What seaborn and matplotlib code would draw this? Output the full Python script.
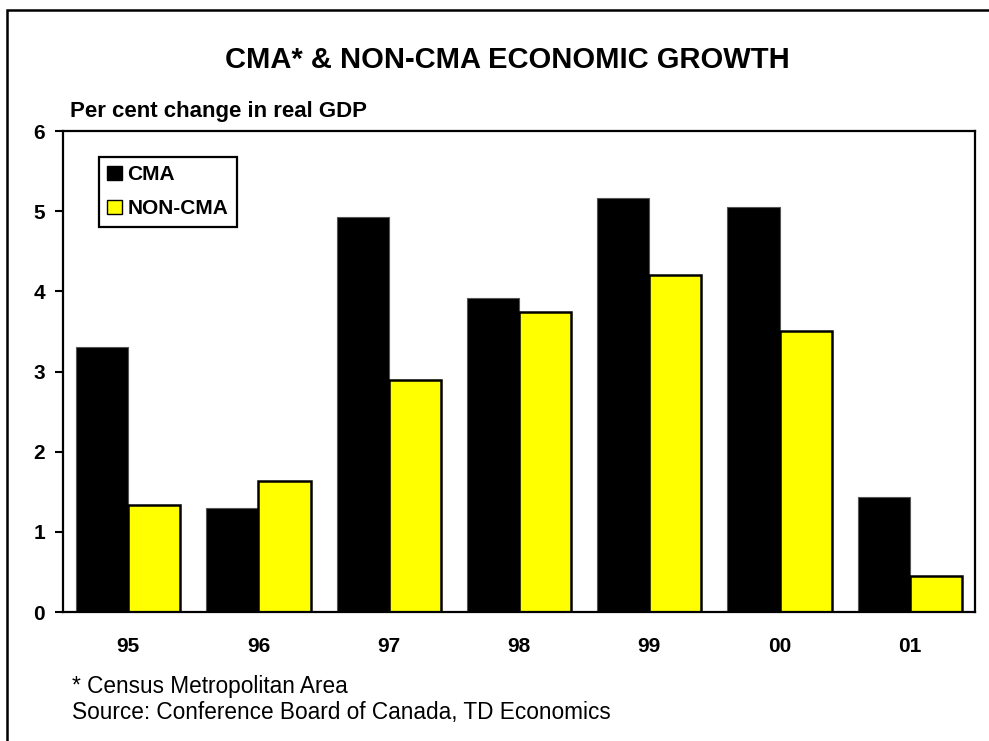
import matplotlib
matplotlib.use("Agg")
import matplotlib.pyplot as plt
from matplotlib.patches import Rectangle, Patch
import pandas as pd
import seaborn as sns

years = ["95", "96", "97", "98", "99", "00", "01"]
cma = [3.31, 1.30, 4.93, 3.92, 5.17, 5.05, 1.44]
non_cma = [1.33, 1.64, 2.89, 3.74, 4.20, 3.51, 0.45]
series = ["CMA", "NON-CMA"]
colors = ["#000000", "#FFFF00"]
y_ticks = [0, 1, 2, 3, 4, 5, 6]

df = pd.DataFrame({
    "year": years * 2,
    "value": cma + non_cma,
    "series": [series[0]] * len(years) + [series[1]] * len(years),
})

sns.set_theme(style="white")
plt.rcParams["font.family"] = ["Liberation Sans", "DejaVu Sans"]
plt.rcParams["text.color"] = "black"
plt.rcParams["xtick.color"] = "black"
plt.rcParams["ytick.color"] = "black"
plt.rcParams["axes.labelcolor"] = "black"

W, H = 989, 741
fig = plt.figure(figsize=(W / 100, H / 100), dpi=100)
ax = fig.add_axes([63 / W, 1 - 612 / H, (975 - 63) / W, (612 - 131) / H])

sns.barplot(data=df, x="year", y="value", hue="series", order=years,
            hue_order=series, palette=colors, width=0.8, saturation=1,
            legend=False, ax=ax)

# edge styles: thin grey outline on black bars, heavier black outline on yellow
for i, bar in enumerate(ax.patches):
    if i < len(years):
        bar.set_edgecolor("#555555")
        bar.set_linewidth(0.8)
    else:
        bar.set_edgecolor("black")
        bar.set_linewidth(1.8)

ax.set_ylim(0, 6)
ax.set_xlim(-0.5, len(years) - 0.5)
ax.set_yticks(y_ticks)
ax.set_yticklabels([str(t) for t in y_ticks], fontsize=15, fontweight="bold")
ax.set_xticks(range(len(years)))
ax.set_xticklabels(years, fontsize=15, fontweight="bold")
ax.tick_params(axis="y", direction="out", length=6, width=1.5, color="black",
               pad=7, left=True)
ax.tick_params(axis="x", length=0, pad=18)
ax.set_xlabel("")
ax.set_ylabel("")
for s in ax.spines.values():
    s.set_visible(True)
    s.set_color("black")
    s.set_linewidth(1.6)

handles = [Patch(facecolor=c, edgecolor="black", linewidth=1.0) for c in colors]
leg = ax.legend(handles, series, loc="upper left", bbox_to_anchor=(0.0395, 0.946),
                frameon=True, fancybox=False, framealpha=1, edgecolor="black",
                prop={"weight": "bold", "size": 15}, handlelength=0.72,
                handleheight=0.72, handletextpad=0.25, borderpad=0.4,
                labelspacing=0.72, borderaxespad=0)
leg.get_frame().set_linewidth(1.6)

fig.text(507 / W, 1 - 60 / H, "CMA* & NON-CMA ECONOMIC GROWTH", ha="center",
         va="center", fontsize=21, fontweight="bold")
fig.text(70 / W, 1 - 112 / H, "Per cent change in real GDP", ha="left",
         va="center", fontsize=16, fontweight="bold")
fig.text(72 / W, 1 - 687 / H, "* Census Metropolitan Area", ha="left",
         va="center", fontsize=16.3)
fig.text(72 / W, 1 - 713 / H, "Source: Conference Board of Canada, TD Economics",
         ha="left", va="center", fontsize=16.3)

# outer frame around the whole chart
fig.patches.append(Rectangle((7 / W, -0.05), 1.1, 1 - 10 / H + 0.05,
                             transform=fig.transFigure, fill=False,
                             edgecolor="black", linewidth=1.8))

fig.savefig("out.png", dpi=100)
